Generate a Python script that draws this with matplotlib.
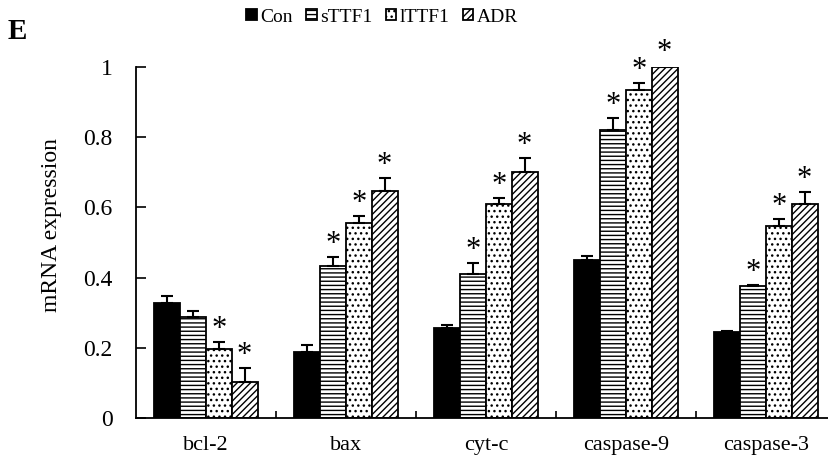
import matplotlib.pyplot as plt
import numpy as np
from matplotlib.ticker import FixedLocator

plt.rcParams['font.family'] = ['Liberation Serif', 'DejaVu Serif']
plt.rcParams['hatch.linewidth'] = 1.0

genes = ["bcl-2", "bax", "cyt-c", "caspase-9", "caspase-3"]
groups = ["Con", "sTTF1", "lTTF1", "ADR"]

con = [0.328, 0.187, 0.257, 0.450, 0.246]
sttf1 = [0.288, 0.432, 0.411, 0.820, 0.377]
lttf1 = [0.196, 0.556, 0.610, 0.935, 0.548]
adr = [0.102, 0.647, 0.700, 1.000, 0.610]

con_err = [0.020, 0.021, 0.008, 0.011, 0.003]
sttf1_err = [0.018, 0.028, 0.030, 0.035, 0.003]
lttf1_err = [0.020, 0.020, 0.016, 0.020, 0.020]
adr_err = [0.040, 0.038, 0.040, 0.006, 0.035]

# which bars get an asterisk
sttf1_sig = [False, True, True, True, True]
lttf1_sig = [True, True, True, True, True]
adr_sig = [True, True, True, True, True]

series = [
    (con, con_err, [False] * 5, "black", ""),
    (sttf1, sttf1_err, sttf1_sig, "white", "----"),
    (lttf1, lttf1_err, lttf1_sig, "white", "..."),
    (adr, adr_err, adr_sig, "white", "/////"),
]

fig = plt.figure(figsize=(8.29, 4.58), dpi=100)
ax = fig.add_axes([136 / 829, 40 / 458, 700 / 829, 351 / 458])

x = np.arange(len(genes))
w = 0.184
handles = []
for k, (vals, errs, sig, fc, hatch) in enumerate(series):
    pos = x + (k - 1.5) * w
    b = ax.bar(pos, vals, w, color=fc, edgecolor="black", hatch=hatch,
               linewidth=1.3, label=groups[k], zorder=2)
    handles.append(b)
    ax.errorbar(pos, vals, yerr=[np.zeros(len(vals)), errs], fmt="none",
                ecolor="black", elinewidth=1.5, capsize=4.5, capthick=1.5, zorder=3)
    for p, v, e, s in zip(pos, vals, errs, sig):
        if s:
            ax.text(p, v + e + 0.014, "*", ha="center", va="baseline", fontsize=22)

ax.set_xlim(-0.5, 4.5)
ax.set_ylim(0, 1)
ax.set_yticks([0, 0.2, 0.4, 0.6, 0.8, 1.0])
ax.set_yticklabels(["0", "0.2", "0.4", "0.6", "0.8", "1"])
ax.set_xticks(x)
ax.set_xticklabels(genes)
ax.xaxis.set_minor_locator(FixedLocator([0.5, 1.5, 2.5, 3.5]))
ax.tick_params(axis="x", which="major", length=0, pad=13, labelsize=16)
ax.tick_params(axis="x", which="minor", direction="in", length=5, width=1.2)
ax.tick_params(axis="y", direction="in", length=7, width=1.2, pad=17, labelsize=17)
for s in ["top", "right"]:
    ax.spines[s].set_visible(False)
for s in ["left", "bottom"]:
    ax.spines[s].set_linewidth(1.3)
ax.set_ylabel("mRNA expression", fontsize=17)
ax.yaxis.set_label_coords(-0.105, 0.55)

fig.text(8 / 829, 1 - 39 / 458, "E", fontsize=21, fontweight="bold")

fig.legend(handles=handles, labels=groups, loc="center", ncol=4,
           bbox_to_anchor=(382 / 829, 1 - 17 / 458), frameon=False,
           fontsize=14, handlelength=0.55, handleheight=0.55,
           handletextpad=0.15, columnspacing=0.7, borderpad=0.1)

fig.savefig("out.png", dpi=100)
